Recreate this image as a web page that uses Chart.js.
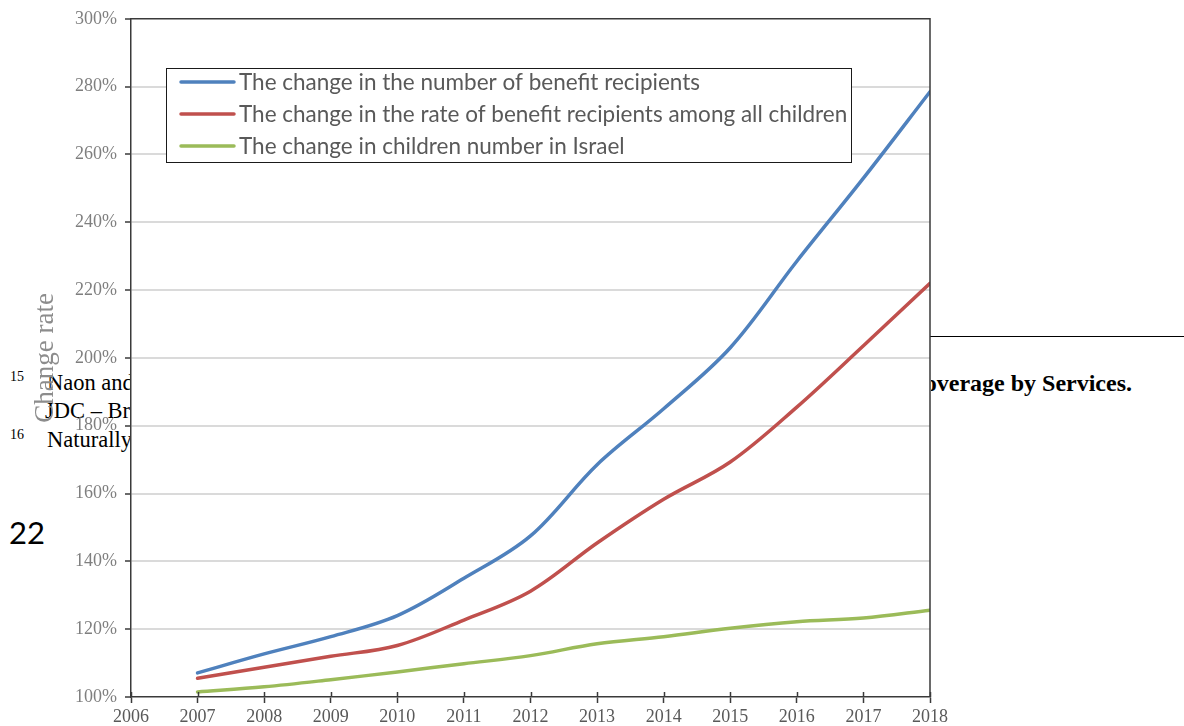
<!DOCTYPE html>
<html>
<head>
<meta charset="utf-8">
<script src="https://cdn.jsdelivr.net/npm/chart.js@4/dist/chart.umd.min.js"></script>
<style>
  html, body { margin: 0; padding: 0; background: #fff; }
  body { width: 1184px; height: 726px; position: relative; overflow: hidden; }
  .page { position: absolute; font-family: "Liberation Serif", "Times New Roman", serif; color: #000; white-space: nowrap; line-height: 1; }
  .fn { font-size: 22.5px; }
  .sup { font-size: 14px; }
  .pg { font-family: Lato, "Open Sans", sans-serif; font-size: 31px; }
  .rule { position: absolute; left: 930px; top: 336px; width: 254px; height: 1px; background: #000; }
  .clip { position: absolute; left: 931px; top: 366px; width: 201px; height: 34px; overflow: hidden; }
  canvas { position: absolute; left: 0; top: 0; }
</style>
</head>
<body>
<!-- page text lying under the figure -->
<div class="page sup" style="left:10px; top:370px;">15</div>
<div class="page fn" style="left:47px; top:372px;">Naon and</div>
<div class="page fn" style="left:45px; top:400px;">JDC – Br</div>
<div class="page sup" style="left:10px; top:428px;">16</div>
<div class="page fn" style="left:47px; top:429px;">Naturally</div>
<div class="page pg" style="left:9px; top:517px;">22</div>
<div class="rule"></div>
<div class="clip"><div class="page" style="right:0; top:5px; font-size:24px; font-weight:bold;">Coverage by Services.</div></div>

<canvas id="c" width="1184" height="726"></canvas>
<script>
// Year-on-year change relative to 2006 (=100%)
const years = [2007, 2008, 2009, 2010, 2011, 2012, 2013, 2014, 2015, 2016, 2017, 2018];
const recipientsChange = [107.1, 112.7, 117.8, 124.0, 135.0, 147.5, 168.5, 185.0, 203.0, 228.5, 253.0, 278.5];
const rateAmongChildren = [105.5, 108.8, 112.0, 115.2, 122.7, 131.2, 145.4, 158.3, 169.3, 185.5, 203.6, 222.0];
const childrenChange = [101.5, 103.0, 105.1, 107.4, 109.8, 112.2, 115.7, 117.8, 120.3, 122.2, 123.3, 125.6];

const seriesLabels = [
  'The change in the number of benefit recipients',
  'The change in the rate of benefit recipients among all children',
  'The change in children number in Israel'
];
const seriesColors = ['#4F81BD', '#C0504D', '#9BBB59'];

const yTitle = 'Change rate';
const xMin = 2006, xMax = 2018;
const yMin = 100, yMax = 300, yStep = 20;

const toPoints = vals => vals.map((v, i) => ({ x: years[i], y: v }));

const AXIS_DARK = '#3a3a3a';

// white plot background, frame, crossing x tick marks and boxed legend
const framePlugin = {
  id: 'frame',
  beforeDraw(chart) {
    const { ctx, chartArea: a } = chart;
    ctx.save();
    ctx.fillStyle = '#fff';
    ctx.fillRect(a.left, a.top, a.right - a.left, a.bottom - a.top);
    ctx.restore();
  },
  afterDatasetsDraw(chart) {
    const { ctx, chartArea: a, scales } = chart;
    ctx.save();
    ctx.strokeStyle = AXIS_DARK;
    ctx.lineWidth = 1.5;
    ctx.beginPath();
    ctx.moveTo(a.left, a.top);
    ctx.lineTo(a.right, a.top);
    ctx.lineTo(a.right, a.bottom);
    ctx.stroke();
    // upper half of the x tick marks
    scales.x.ticks.forEach(t => {
      const px = Math.round(scales.x.getPixelForValue(t.value)) + 0.5;
      ctx.beginPath();
      ctx.moveTo(px, a.bottom - 5);
      ctx.lineTo(px, a.bottom);
      ctx.stroke();
    });
    ctx.restore();
  },
  afterDraw(chart) {
    const { ctx, data } = chart;
    const box = { x: 166, y: 68, w: 685, h: 94 };
    ctx.save();
    ctx.fillStyle = '#fff';
    ctx.fillRect(box.x, box.y, box.w, box.h);
    ctx.strokeStyle = '#1a1a1a';
    ctx.lineWidth = 1;
    ctx.strokeRect(box.x + 0.5, box.y + 0.5, box.w, box.h);
    ctx.font = '22.5px Lato, "Open Sans", sans-serif';
    ctx.textBaseline = 'middle';
    ctx.fillStyle = '#595959';
    data.datasets.forEach((ds, i) => {
      const cy = 82 + i * 32;
      ctx.strokeStyle = ds.borderColor;
      ctx.lineWidth = 3.5;
      ctx.lineCap = 'round';
      ctx.beginPath();
      ctx.moveTo(181, cy);
      ctx.lineTo(234, cy);
      ctx.stroke();
      ctx.fillText(ds.label, 239, cy + 1);
    });
    ctx.restore();
  }
};

new Chart(document.getElementById('c'), {
  type: 'line',
  data: {
    datasets: [
      { label: seriesLabels[0], data: toPoints(recipientsChange), borderColor: seriesColors[0] },
      { label: seriesLabels[1], data: toPoints(rateAmongChildren), borderColor: seriesColors[1] },
      { label: seriesLabels[2], data: toPoints(childrenChange), borderColor: seriesColors[2] }
    ]
  },
  options: {
    responsive: false,
    animation: false,
    layout: { padding: { top: 18, right: 254, bottom: 0, left: 0 } },
    elements: {
      line: { borderWidth: 3.5, tension: 0.35, fill: false, borderCapStyle: 'round' },
      point: { radius: 0, hoverRadius: 0 }
    },
    plugins: { legend: { display: false }, tooltip: { enabled: false } },
    scales: {
      x: {
        type: 'linear',
        min: xMin, max: xMax,
        afterFit: s => { s.height = 29; },
        border: { display: true, color: AXIS_DARK, width: 1.5 },
        grid: { display: true, drawOnChartArea: false, tickLength: 6, tickColor: AXIS_DARK, tickWidth: 1.5 },
        ticks: {
          stepSize: 1, padding: 3, color: '#595959',
          font: { family: '"Liberation Serif", serif', size: 18 },
          maxRotation: 0, autoSkip: false,
          callback: v => String(v)
        }
      },
      y: {
        min: yMin, max: yMax,
        afterFit: s => { s.width = 131; },
        border: { display: true, color: AXIS_DARK, width: 1.5 },
        grid: {
          color: ctx => (ctx.tick && (ctx.tick.value === yMin || ctx.tick.value === yMax)) ? 'rgba(0,0,0,0)' : '#dadada',
          lineWidth: 2, tickLength: 6, tickColor: AXIS_DARK, tickWidth: 1.5
        },
        ticks: {
          stepSize: yStep, padding: 8, color: '#7f7f7f',
          font: { family: '"Liberation Serif", serif', size: 18 },
          callback: v => v + '%'
        },
        title: {
          display: true, text: yTitle, color: '#8c8c8c',
          font: { family: '"Liberation Serif", serif', size: 27 },
          padding: { top: 30, bottom: 0 }
        }
      }
    }
  },
  plugins: [framePlugin]
});
</script>
</body>
</html>
